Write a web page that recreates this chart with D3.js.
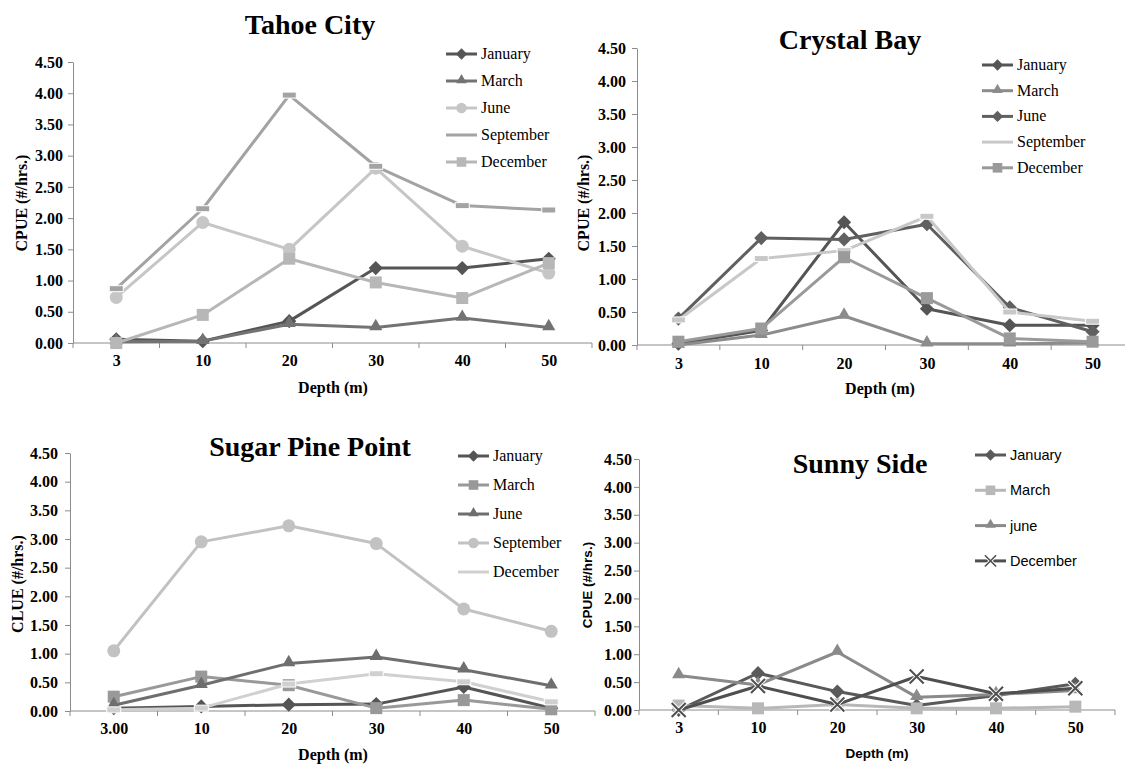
<!DOCTYPE html>
<html>
<head>
<meta charset="utf-8">
<script src="https://cdn.jsdelivr.net/npm/d3@7"></script>
<style>
  body { margin: 0; background: #fff; }
</style>
</head>
<body>
<svg id="chart" width="1125" height="765"></svg>
<script>
// categories
const depths = ['3', '10', '20', '30', '40', '50'];
const depthsSugar = ['3.00', '10', '20', '30', '40', '50'];
const cpueTicks = [0, 0.5, 1, 1.5, 2, 2.5, 3, 3.5, 4, 4.5];

// Tahoe City
const tahoeNames = ['January', 'March', 'June', 'September', 'December'];
const tahoeJanuary = [0.06, 0.03, 0.35, 1.20, 1.20, 1.35];
const tahoeMarch = [0.02, 0.03, 0.30, 0.25, 0.40, 0.25];
const tahoeJune = [0.73, 1.93, 1.50, 2.80, 1.55, 1.12];
const tahoeSeptember = [0.87, 2.15, 3.97, 2.83, 2.20, 2.13];
const tahoeDecember = [0.00, 0.45, 1.35, 0.97, 0.72, 1.28];

// Crystal Bay
const crystalNames = ['January', 'March', 'June', 'September', 'December'];
const crystalJanuary = [0.02, 0.22, 1.86, 0.55, 0.30, 0.30];
const crystalMarch = [0.00, 0.15, 0.44, 0.02, 0.02, 0.03];
const crystalJune = [0.40, 1.62, 1.60, 1.83, 0.57, 0.20];
const crystalSeptember = [0.38, 1.31, 1.43, 1.95, 0.50, 0.36];
const crystalDecember = [0.05, 0.25, 1.33, 0.71, 0.10, 0.05];

// Sugar Pine Point
const sugarNames = ['January', 'March', 'June', 'September', 'December'];
const sugarJanuary = [0.05, 0.08, 0.11, 0.12, 0.42, 0.05];
const sugarMarch = [0.25, 0.60, 0.45, 0.05, 0.19, 0.03];
const sugarJune = [0.10, 0.45, 0.83, 0.94, 0.72, 0.44];
const sugarSeptember = [1.05, 2.95, 3.23, 2.92, 1.78, 1.39];
const sugarDecember = [0.02, 0.05, 0.47, 0.65, 0.51, 0.16];

// Sunny Side
const sunnyNames = ['January', 'March', 'june', 'December'];
const sunnyJanuary = [0.00, 0.66, 0.33, 0.08, 0.26, 0.47];
const sunnyMarch = [0.08, 0.03, 0.10, 0.03, 0.03, 0.06];
const sunnyJune = [0.62, 0.45, 1.04, 0.23, 0.28, 0.35];
const sunnyDecember = [0.00, 0.43, 0.10, 0.60, 0.29, 0.39];

const serif = "'Liberation Serif', 'Times New Roman', serif";
const sans = "'Liberation Sans', Arial, sans-serif";
const svg = d3.select('#chart');

function drawMarker(g, type, color) {
  if (type === 'diamond') {
    g.append('rect').attr('x', -5).attr('y', -5).attr('width', 10).attr('height', 10)
      .attr('transform', 'rotate(45)').attr('fill', color);
  } else if (type === 'triangle') {
    g.append('path').attr('d', d3.symbol(d3.symbolTriangle, 75)()).attr('fill', color)
      .attr('transform', 'translate(0,-1)');
  } else if (type === 'circle') {
    g.append('circle').attr('r', 6.5).attr('fill', color);
  } else if (type === 'square') {
    g.append('rect').attr('x', -6).attr('y', -6).attr('width', 12).attr('height', 12)
      .attr('fill', color);
  } else if (type === 'dash') {
    g.append('rect').attr('x', -7).attr('y', -3).attr('width', 14).attr('height', 6)
      .attr('fill', color).attr('stroke', '#fff').attr('stroke-width', 1);
  } else if (type === 'x') {
    g.append('path').attr('d', 'M-7,-7L7,7M-7,7L7,-7')
      .attr('stroke', '#fff').attr('stroke-width', 4);
    g.append('path').attr('d', 'M-7,-7L7,7M-7,7L7,-7')
      .attr('stroke', color).attr('stroke-width', 2);
  }
}

function drawPanel(p) {
  const g = svg.append('g');

  const x = d3.scalePoint().domain(p.cats).range([p.x0, p.x1]).padding(0.5);
  const band = d3.scaleBand().domain(p.cats).range([p.x0, p.x1]);
  const y = d3.scaleLinear().domain([0, 4.5]).range([p.yBot, p.yTop]);

  // y axis
  const ya = g.append('g').attr('transform', `translate(${p.x0},0)`)
    .call(d3.axisLeft(y).tickValues(cpueTicks).tickFormat(d3.format('.2f'))
      .tickSize(5).tickSizeOuter(0).tickPadding(p.yPad));
  ya.select('.domain').attr('stroke', '#8c8c8c');
  ya.selectAll('.tick line').attr('stroke', '#8c8c8c');
  ya.selectAll('.tick text').attr('font-family', serif).attr('font-weight', 'bold')
    .attr('font-size', 16).attr('fill', '#000');

  // x axis
  const xa = g.append('g').attr('transform', `translate(0,${p.yBot})`)
    .call(d3.axisBottom(x).tickSize(0).tickPadding(p.xPad));
  xa.select('.domain').attr('stroke', '#8c8c8c').attr('d', `M${p.x0},0H${p.x1}`);
  xa.selectAll('.tick text').attr('font-family', serif).attr('font-weight', 'bold')
    .attr('font-size', 16).attr('fill', '#000');
  xa.selectAll('.bound')
    .data(p.cats.map(c => band(c)).concat([band(p.cats[p.cats.length - 1]) + band.bandwidth()]))
    .enter().append('line')
    .attr('x1', d => d).attr('x2', d => d).attr('y1', 0).attr('y2', 5)
    .attr('stroke', '#8c8c8c');

  // series
  const line = d3.line().x((d, i) => x(p.cats[i])).y(d => y(d));
  p.series.forEach(s => {
    g.append('path').datum(s.values).attr('d', line)
      .attr('fill', 'none').attr('stroke', s.color).attr('stroke-width', 3)
      .attr('stroke-linejoin', 'round');
    s.values.forEach((v, i) => {
      const m = g.append('g').attr('transform', `translate(${x(p.cats[i])},${y(v)})`);
      drawMarker(m, s.marker, s.color);
    });
  });

  // titles
  g.append('text').text(p.title).attr('x', p.titleX).attr('y', p.titleY)
    .attr('text-anchor', 'middle').attr('font-family', serif).attr('font-weight', 'bold')
    .attr('font-size', 28);
  g.append('text').text(p.yLabel)
    .attr('transform', `translate(${p.yLabelX},${p.yLabelY}) rotate(-90)`)
    .attr('text-anchor', 'middle').attr('font-family', p.labelFont).attr('font-weight', 'bold')
    .attr('font-size', p.labelSize);
  g.append('text').text('Depth (m)').attr('x', p.xLabelX).attr('y', p.xLabelY)
    .attr('text-anchor', 'middle').attr('font-family', p.labelFont).attr('font-weight', 'bold')
    .attr('font-size', p.labelSize);

  // legend
  const lg = g.append('g');
  p.series.forEach((s, i) => {
    const ly = p.legY + i * p.legStep;
    const row = lg.append('g');
    row.append('line').attr('x1', p.legX).attr('x2', p.legX + 31).attr('y1', ly).attr('y2', ly)
      .attr('stroke', s.color).attr('stroke-width', 3);
    if (s.marker !== 'dash') {
      const m = row.append('g').attr('transform', `translate(${p.legX + 15.5},${ly}) scale(0.8)`);
      drawMarker(m, s.marker, s.color);
    }
    row.append('text').text(s.name).attr('x', p.legX + 35).attr('y', ly + 5)
      .attr('font-family', p.legFont).attr('font-size', p.legSize).attr('fill', '#000');
  });
}

drawPanel({
  title: 'Tahoe City', titleX: 310, titleY: 34,
  cats: depths, x0: 73, x1: 592, yTop: 62, yBot: 343, yPad: 5, xPad: 12,
  yLabel: 'CPUE (#/hrs.)', yLabelX: 27, yLabelY: 203, xLabelX: 333, xLabelY: 393,
  labelFont: serif, labelSize: 16,
  legX: 446, legY: 54, legStep: 27, legFont: serif, legSize: 16,
  series: [
    { name: tahoeNames[0], values: tahoeJanuary, color: '#555555', marker: 'diamond' },
    { name: tahoeNames[1], values: tahoeMarch, color: '#737373', marker: 'triangle' },
    { name: tahoeNames[2], values: tahoeJune, color: '#c6c6c6', marker: 'circle' },
    { name: tahoeNames[3], values: tahoeSeptember, color: '#a3a3a3', marker: 'dash' },
    { name: tahoeNames[4], values: tahoeDecember, color: '#b7b7b7', marker: 'square' }
  ]
});

drawPanel({
  title: 'Crystal Bay', titleX: 850, titleY: 49,
  cats: depths, x0: 637, x1: 1134, yTop: 48, yBot: 345, yPad: 6, xPad: 13,
  yLabel: 'CPUE (#/hrs.)', yLabelX: 589, yLabelY: 203, xLabelX: 880, xLabelY: 394,
  labelFont: serif, labelSize: 16,
  legX: 982, legY: 65, legStep: 25.7, legFont: serif, legSize: 16,
  series: [
    { name: crystalNames[0], values: crystalJanuary, color: '#555555', marker: 'diamond' },
    { name: crystalNames[1], values: crystalMarch, color: '#8c8c8c', marker: 'triangle' },
    { name: crystalNames[2], values: crystalJune, color: '#606060', marker: 'diamond' },
    { name: crystalNames[3], values: crystalSeptember, color: '#c8c8c8', marker: 'dash' },
    { name: crystalNames[4], values: crystalDecember, color: '#9a9a9a', marker: 'square' }
  ]
});

drawPanel({
  title: 'Sugar Pine Point', titleX: 310, titleY: 456,
  cats: depthsSugar, x0: 70, x1: 595, yTop: 453, yBot: 711, yPad: 7, xPad: 12,
  yLabel: 'CLUE (#/hrs.)', yLabelX: 23, yLabelY: 584, xLabelX: 333, xLabelY: 760,
  labelFont: serif, labelSize: 16,
  legX: 458, legY: 456, legStep: 29, legFont: serif, legSize: 16,
  series: [
    { name: sugarNames[0], values: sugarJanuary, color: '#555555', marker: 'diamond' },
    { name: sugarNames[1], values: sugarMarch, color: '#999999', marker: 'square' },
    { name: sugarNames[2], values: sugarJune, color: '#6e6e6e', marker: 'triangle' },
    { name: sugarNames[3], values: sugarSeptember, color: '#c2c2c2', marker: 'circle' },
    { name: sugarNames[4], values: sugarDecember, color: '#d0d0d0', marker: 'dash' }
  ]
});

drawPanel({
  title: 'Sunny Side', titleX: 860, titleY: 473,
  cats: depths, x0: 639, x1: 1115, yTop: 459, yBot: 710, yPad: 2, xPad: 12,
  yLabel: 'CPUE (#/hrs.)', yLabelX: 592, yLabelY: 585, xLabelX: 877, xLabelY: 758,
  labelFont: sans, labelSize: 13.5,
  legX: 975, legY: 455, legStep: 35.3, legFont: sans, legSize: 14.5,
  series: [
    { name: sunnyNames[0], values: sunnyJanuary, color: '#5a5a5a', marker: 'diamond' },
    { name: sunnyNames[1], values: sunnyMarch, color: '#b8b8b8', marker: 'square' },
    { name: sunnyNames[2], values: sunnyJune, color: '#8a8a8a', marker: 'triangle' },
    { name: sunnyNames[3], values: sunnyDecember, color: '#4f4f4f', marker: 'x' }
  ]
});
</script>
</body>
</html>
